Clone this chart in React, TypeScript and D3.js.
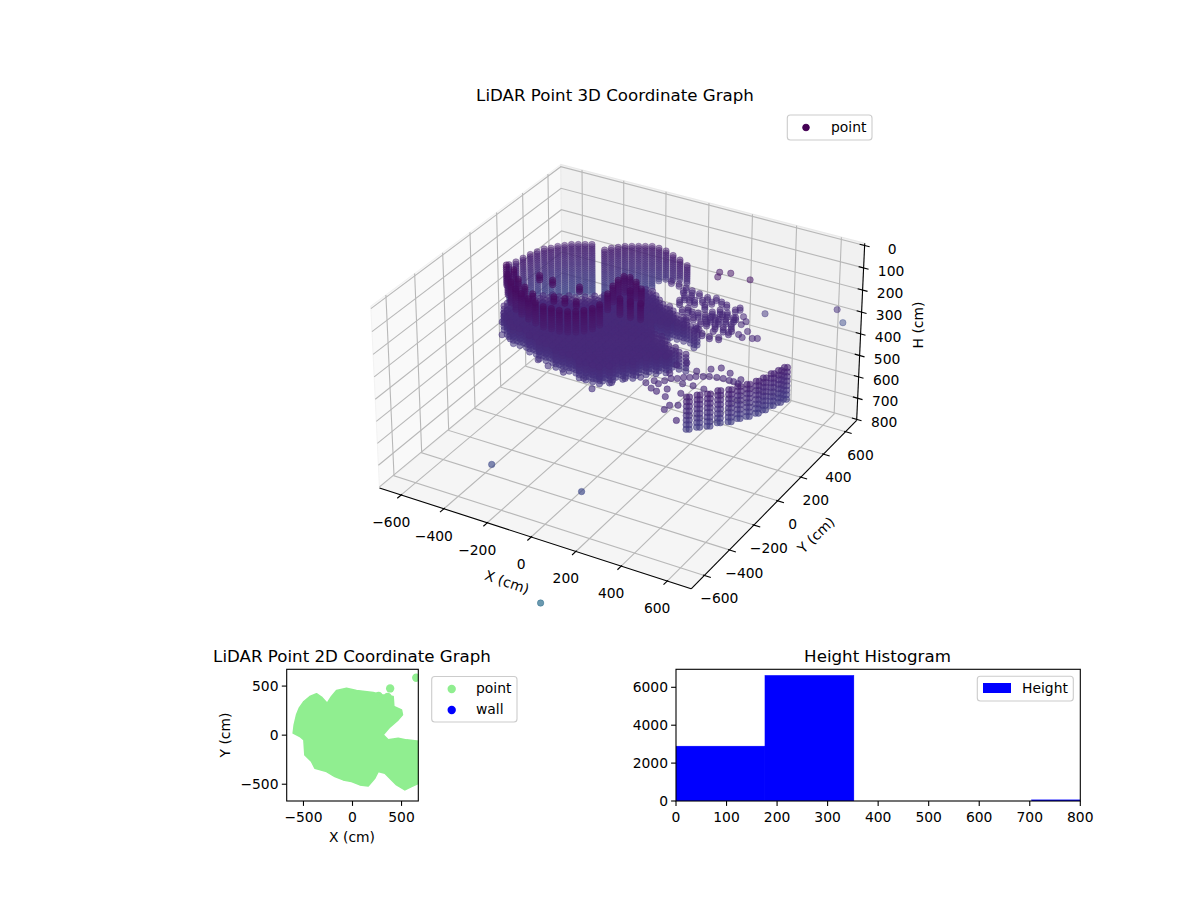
import React from "react";
import * as d3 from "d3";

// ---- tick labels / limits
const xyTicks3D = [-600, -400, -200, 0, 200, 400, 600];
const hTicks3D = [0, 100, 200, 300, 400, 500, 600, 700, 800];
const ticks2D = [-500, 0, 500];
const histXTicks = [0, 100, 200, 300, 400, 500, 600, 700, 800];
const histYTicks = [0, 2000, 4000, 6000];

// ---- LiDAR scan levels (cm below sensor)
const scanLevels = [60, 70, 80, 90, 100, 110, 120, 130, 140, 150, 160, 170, 180, 190, 200, 210, 220, 230, 240, 250, 260, 270, 280, 290, 300, 310, 320, 330, 340, 350, 360, 370, 380];
const stripeLevels = [170, 190, 210, 230, 250, 270, 290, 310];
const massLevels = [200, 215, 230, 245, 260, 275];
const massGridY = [-450, -425, -400, -375, -350, -325, -300, -275, -250, -225, -200, -175, -150, -125, -100, -75, -50, -25, 0, 25, 50, 75, 100, 125, 150, 175, 200, 225, 250, 275, 300, 325, 350];

// back-left wall columns
const wallX = [-585, -573, -565, -556, -544, -532, -512, -496, -476, -456, -432, -408, -384, -315, -299, -279, -259, -235, -211, -187, -163, -131, -95, -51, -8, 40];
const wallY = [99, 133, 175, 216, 250, 285, 305, 332, 353, 374, 388, 402, 416, 400, 427, 448, 469, 483, 497, 510, 524, 524, 518, 498, 478, 451];
const wallBottom = [320, 320, 330, 340, 350, 360, 370, 380, 380, 380, 380, 380, 380, 380, 380, 380, 380, 380, 380, 380, 340, 300, 280, 260, 240, 230];

// dark top band and hook
const bandX = [-502, -456, -411, -366, -326, -282, -242, -199, -164, -129, -97, -70, -47, -27, -18, -455, -399, -343, -288, -343, -278, -158, -109, -159, -204, -35, -49, -55, -51, -26, 14, 59, 29, 26, 73, 115];
const bandY = [-51, -115, -163, -201, -223, -243, -256, -268, -265, -264, -255, -239, -216, -186, -146, -70, -128, -169, -201, -59, -67, -62, -170, -172, -180, -55, 10, 61, 100, 105, 83, 45, 10, -65, -65, -59];
const bandBottom = [150, 150, 150, 150, 150, 150, 150, 150, 150, 150, 150, 150, 150, 150, 150, 150, 150, 150, 150, 80, 80, 80, 80, 80, 80, 130, 130, 130, 130, 130, 130, 130, 130, 130, 130, 130];

// main body rows: X with occupied Y span
const massRowX = [-470, -440, -410, -380, -350, -320, -290, -260, -230, -200, -170, -140, -110, -80, -50, -20, 10, 40, 70, 100, 100, 130, 130, 160, 160, 190, 190, 220, 220, 250, 250, 280, 280, 310, 340];
const massRowLo = [-130, -190, -222, -240, -252, -262, -272, -282, -292, -302, -310, -315, -325, -335, -340, -340, -350, -360, -365, -370, 50, -335, 58, -290, 68, -250, 78, -215, 88, -180, 95, -150, 75, -120, -100];
const massRowHi = [-60, -10, 15, 35, 50, 65, 75, 95, 115, 140, 170, 200, 230, 265, 290, 280, 260, 240, 220, 15, 200, 5, 185, -10, 165, -25, 150, -40, 125, -55, 100, -65, 100, -80, -95];

// loose points round the body
const looseX = [-456, -473, -402, -370, -177, -119, -43, 48, 116, 100, 157, 186, 233];
const looseY = [-163, -118, -250, -250, -347, -368, -380, -381, -433, -352, -355, -302, -265];
const looseH = [250, 250, 250, 250, 250, 250, 250, 250, 250, 250, 250, 250, 250];

// ring on the right
const ringX = [43, 83, 116, 152, 195, 229, 291, 339, 348, 393, 415, 462, 504, 521, 443, 401, 387, 352, 316, 269, 226, 199, 255, 268, 287, 323, 363, 381, 365, 326, 286, 284, 319, 343, 108, 162, 216, 110, 170, 224, 5, 85, 132, 189, 228, 262, 370, 420, 266, 291, 346, 408, 466, 202, 157, 144, 301, 313];
const ringY = [380, 367, 357, 351, 340, 351, 323, 305, 328, 272, 212, 176, 136, 146, 137, 132, 78, 67, 73, 109, 166, 205, 211, 245, 275, 268, 246, 193, 156, 161, 165, 200, 203, 217, 308, 293, 279, 264, 226, 210, 385, 340, 321, 309, 314, 334, 250, 242, 153, 94, 109, 145, 123, 153, 200, 284, 210, 245];
const ringBottom = [210, 210, 210, 210, 210, 210, 210, 210, 210, 200, 200, 200, 200, 200, 200, 210, 210, 210, 210, 210, 210, 210, 220, 220, 220, 220, 220, 220, 220, 220, 220, 220, 220, 220, 220, 220, 220, 220, 220, 220, 210, 210, 210, 210, 210, 210, 210, 200, 210, 200, 200, 200, 200, 210, 210, 210, 210, 210];

// lower right stripes
const stripeX = [522, 549, 579, 601, 633, 651, 674, 693, 705, 716, 729, 738, 532, 559, 589, 611, 643, 661, 684, 703, 715, 726, 739, 748];
const stripeY = [-426, -393, -367, -326, -299, -261, -230, -192, -157, -114, -79, -47, -420, -387, -361, -320, -293, -255, -224, -186, -151, -108, -73, -41];

// lower band between body and stripes
const lowBandX = [350, 358, 367, 401, 438, 479, 527, 579, 619, 357, 478, 508, 556, 614, 438, 375, 349, 479, 526, 466, 427, 470, 472, 499, 547, 313, 333, 380, 418, 455, 499, 552, 597, 379, 406, 437];
const lowBandY = [-390, -348, -316, -278, -247, -216, -196, -193, -197, -258, -152, -125, -143, -165, -193, -156, -189, -296, -297, -368, -418, -502, -465, -449, -548, -365, -336, -290, -259, -230, -204, -191, -192, -400, -366, -302];

// isolated returns
const outlierX = [384, 650, 600, 224, 236, 266, 358, -46, 341, 395];
const outlierY = [476, 585, 750, 384, 346, 399, 389, -898, -892, -1277];
const outlierH = [287, 247, 400, 100, 100, 100, 100, 387, 387, 633];

// outline of the dense floor footprint in the 2D view
const footprintX = [-605, -595, -571, -544, -496, -435, -367, -316, -258, -214, -163, -61, 41, 211, 296, 415, 422, 500, 510, 466, 381, 313, 364, 466, 551, 755, 755, 602, 534, 449, 398, 330, 262, 228, 160, 75, -10, -95, -180, -265, -384, -418, -486, -496, -537];
const footprintY = [20, 105, 207, 275, 343, 394, 422, 388, 326, 394, 456, 479, 456, 435, 411, 394, 292, 258, 207, 156, 82, 3, -48, -31, -48, -71, -456, -524, -558, -507, -456, -388, -371, -439, -517, -507, -473, -456, -422, -371, -337, -269, -201, -48, -14];

// histogram
const histEdges = [0, 176, 352, 528, 704, 880];
const histCounts = [2895, 6630, 0, 0, 60];

// ---- 3D view
const LIM = 703;
const HX = 0.595;
const HZ = 0.345;
const DIST = 10;
const nx = d3.scaleLinear().domain([-LIM, LIM]).range([-HX, HX]);
const nh = d3.scaleLinear().domain([805, -10]).range([-HZ, HZ]);
const colorOf = (h: number) => d3.interpolateViridis(Math.min(1, Math.max(0, h / 1760)));

function project(X: number, Y: number, H: number) {
  const qx = nx(X), qy = nx(Y), qz = nh(H);
  const xv = 0.866025 * qx + 0.5 * qy;
  const yv = -0.25 * qx + 0.433013 * qy + 0.866025 * qz;
  const wq = 0.433013 * qx - 0.75 * qy + 0.5 * qz;
  const d = DIST - wq;
  return { x: 622.5 + (2985 * xv) / d, y: 365.4 - (3000 * yv) / d, depth: wq };
}

type P = { x: number; y: number; depth: number; h: number; layer: number };
const points: P[] = [];
const add = (X: number, Y: number, H: number, layer = 0) => points.push({ ...project(X, Y, H), h: H, layer });
wallX.forEach((X, i) => scanLevels.filter((h) => h >= 150 && h <= wallBottom[i]).forEach((h) => add(X, wallY[i], h)));
massRowX.forEach((X, i) => massGridY.filter((y) => y >= massRowLo[i] && y <= massRowHi[i]).forEach((y) => massLevels.forEach((h) => add(X, y, h))));
bandX.forEach((X, i) => scanLevels.filter((h) => h >= 60 && h <= bandBottom[i]).forEach((h) => add(X, bandY[i], h, 1)));
looseX.forEach((X, i) => add(X, looseY[i], looseH[i]));
ringX.forEach((X, i) => scanLevels.filter((h) => h >= 200 && h <= ringBottom[i]).forEach((h) => add(X, ringY[i], h)));
stripeX.forEach((X, i) => stripeLevels.forEach((h) => add(X, stripeY[i], h)));
lowBandX.forEach((X, i) => add(X, lowBandY[i], 200));
outlierX.forEach((X, i) => add(X, outlierY[i], outlierH[i]));
points.sort((a, b) => a.layer - b.layer || a.depth - b.depth);
const alphaOf = d3.scaleLinear().domain([-0.6, 0.9]).range([0.42, 0.72]).clamp(true);

const FONT = "DejaVu Sans";
const FS = 13.89;
const minus = (v: number) => (v < 0 ? "\u2212" + Math.abs(v) : String(v));
const poly = (pts: { x: number; y: number }[]) => pts.map((p) => `${p.x},${p.y}`).join(" ");
const seg = (a: { x: number; y: number }, b: { x: number; y: number }, k: string, stroke: string, w: number) => (
  <line key={k} x1={a.x} y1={a.y} x2={b.x} y2={b.y} stroke={stroke} strokeWidth={w} />
);

const L = LIM;
const HB = 805;
const HT = -10;
const A = project(-L, -L, HB), B = project(L, -L, HB), C = project(L, L, HB), D = project(-L, L, HB);
const E = project(-L, -L, HT), G = project(L, L, HT), T = project(-L, L, HT);

// ---- 2D panels
const x2 = d3.scaleLinear().domain([-671, 671]).range([286.7, 418.3]);
const y2 = d3.scaleLinear().domain([-671, 671]).range([801, 669.3]);
const footprintPath = d3
  .line<number>()
  .x((v) => x2(v))
  .y((_, i) => y2(footprintY[i]))
  .curve(d3.curveLinearClosed)(footprintX);

const xh = d3.scaleLinear().domain([0, 800]).range([676, 1080.3]);
const yh = d3.scaleLinear().domain([0, 6950]).range([801, 669.3]);

const Txt = ({ x, y, anchor = "middle", size = FS, rotate, children }: any) => (
  <text
    x={x}
    y={y}
    textAnchor={anchor}
    dominantBaseline="central"
    fontFamily={FONT}
    fontSize={size}
    fill="#000"
    transform={rotate !== undefined ? `rotate(${rotate} ${x} ${y})` : undefined}
  >
    {children}
  </text>
);

const LegendBox = ({ x, y, w, h }: any) => (
  <rect x={x} y={y} width={w} height={h} rx={3} fill="#fff" fillOpacity={0.8} stroke="#ccc" strokeWidth={1.1} />
);

export default function App() {
  return (
    <svg width={1200} height={900} viewBox="0 0 1200 900" style={{ position: "absolute", left: 0, top: 0, background: "#fff" }}>
      <defs>
        <clipPath id="c2d">
          <rect x={286.7} y={669.3} width={131.6} height={131.7} />
        </clipPath>
        <clipPath id="chist">
          <rect x={676} y={669.3} width={404.3} height={131.7} />
        </clipPath>
      </defs>
      <Txt x={615} y={95} size={16.67}>LiDAR Point 3D Coordinate Graph</Txt>

      {/* panes */}
      <polygon points={poly([A, D, T, E])} fill="#f9f9f9" stroke="#f3f3f3" strokeWidth={1.1} />
      <polygon points={poly([D, C, G, T])} fill="#f1f1f1" stroke="#e9e9e9" strokeWidth={1.1} />
      <polygon points={poly([A, B, C, D])} fill="#f5f5f5" stroke="#f0f0f0" strokeWidth={1.1} />

      {/* grid */}
      {xyTicks3D.map((v) => (
        <polyline key={"gx" + v} fill="none" stroke="#b8b8b8" strokeWidth={1.1} points={poly([project(v, -L, HB), project(v, L, HB), project(v, L, HT)])} />
      ))}
      {xyTicks3D.map((v) => (
        <polyline key={"gy" + v} fill="none" stroke="#b8b8b8" strokeWidth={1.1} points={poly([project(L, v, HB), project(-L, v, HB), project(-L, v, HT)])} />
      ))}
      {hTicks3D.map((v) => (
        <polyline key={"gz" + v} fill="none" stroke="#b8b8b8" strokeWidth={1.1} points={poly([project(-L, -L, v), project(-L, L, v), project(L, L, v)])} />
      ))}

      {/* axes lines and ticks */}
      {seg(A, B, "ax", "#000", 1.1)}
      {seg(B, C, "ay", "#000", 1.1)}
      {seg(C, G, "az", "#000", 1.1)}
      {xyTicks3D.map((v) => seg(project(v, -L + 6, HB), project(v, -L - 28, HB), "tx" + v, "#000", 1.1))}
      {xyTicks3D.map((v) => seg(project(L - 6, v, HB), project(L + 28, v, HB), "ty" + v, "#000", 1.1))}
      {hTicks3D.map((v) => seg(project(L - 22, L, v), project(L + 22, L, v), "tz" + v, "#000", 1.1))}
      {xyTicks3D.map((v) => {
        const p = project(v, -L, HB);
        return <Txt key={"lx" + v} x={p.x - 10} y={p.y + 27}>{minus(v)}</Txt>;
      })}
      {xyTicks3D.map((v) => {
        const p = project(L, v, HB);
        return <Txt key={"ly" + v} x={p.x + 15} y={p.y + 23}>{minus(v)}</Txt>;
      })}
      {hTicks3D.map((v) => {
        const p = project(L, L, v);
        return <Txt key={"lz" + v} x={p.x + 27.5} y={p.y + 3}>{v}</Txt>;
      })}
      <Txt x={507} y={582} rotate={19}>X (cm)</Txt>
      <Txt x={816} y={535} rotate={-44}>Y (cm)</Txt>
      <Txt x={918} y={325} rotate={-90}>H (cm)</Txt>

      {/* cloud */}
      {points.map((p, i) => {
        const a = alphaOf(p.depth);
        const c = colorOf(p.h);
        return <circle key={i} cx={p.x} cy={p.y} r={3.2} fill={c} stroke={c} strokeWidth={0.7} fillOpacity={a} strokeOpacity={a} />;
      })}

      <LegendBox x={787.3} y={115} w={84.7} h={25} />
      <circle cx={806} cy={127.5} r={3.3} fill="#440154" stroke="#440154" strokeWidth={1} />
      <Txt x={831} y={127} anchor="start">point</Txt>

      {/* 2D scatter */}
      <Txt x={352} y={656} size={16.67}>LiDAR Point 2D Coordinate Graph</Txt>
      <g clipPath="url(#c2d)">
        <path d={footprintPath ?? ""} fill="#90ee90" stroke="#90ee90" strokeWidth={1.5} strokeLinejoin="round" />
        {outlierX.map((v, i) => (
          <circle key={i} cx={x2(v)} cy={y2(outlierY[i])} r={4.17} fill="#90ee90" />
        ))}
      </g>
      <rect x={286.7} y={669.3} width={131.6} height={131.7} fill="none" stroke="#000" strokeWidth={1.1} />
      {ticks2D.map((v) => (
        <g key={"t2" + v}>
          <line x1={x2(v)} x2={x2(v)} y1={801} y2={805.9} stroke="#000" strokeWidth={1.1} />
          <Txt x={x2(v)} y={817}>{minus(v)}</Txt>
          <line x1={286.7} x2={281.8} y1={y2(v)} y2={y2(v)} stroke="#000" strokeWidth={1.1} />
          <Txt x={278.5} y={y2(v)} anchor="end">{minus(v)}</Txt>
        </g>
      ))}
      <Txt x={352} y={837}>X (cm)</Txt>
      <Txt x={225} y={735} rotate={-90}>Y (cm)</Txt>
      <LegendBox x={431.7} y={676.5} w={85.3} h={45.5} />
      <circle cx={451.7} cy={689} r={4.17} fill="#90ee90" />
      <circle cx={451.7} cy={710} r={4.17} fill="#0000ff" />
      <Txt x={476} y={688} anchor="start">point</Txt>
      <Txt x={476} y={708.5} anchor="start">wall</Txt>

      {/* histogram */}
      <Txt x={877.5} y={656} size={16.67}>Height Histogram</Txt>
      <g clipPath="url(#chist)">
        {histCounts.map((c, i) => (
          <rect key={i} x={xh(histEdges[i])} width={xh(histEdges[i + 1]) - xh(histEdges[i])} y={yh(c)} height={yh(0) - yh(c)} fill="#0000ff" stroke="#0000ff" strokeWidth={0.4} />
        ))}
      </g>
      <rect x={676} y={669.3} width={404.3} height={131.7} fill="none" stroke="#000" strokeWidth={1.1} />
      {histXTicks.map((v) => (
        <g key={"hx" + v}>
          <line x1={xh(v)} x2={xh(v)} y1={801} y2={805.9} stroke="#000" strokeWidth={1.1} />
          <Txt x={xh(v)} y={817}>{v}</Txt>
        </g>
      ))}
      {histYTicks.map((v) => (
        <g key={"hy" + v}>
          <line x1={676} x2={671.1} y1={yh(v)} y2={yh(v)} stroke="#000" strokeWidth={1.1} />
          <Txt x={668} y={yh(v)} anchor="end">{v}</Txt>
        </g>
      ))}
      <LegendBox x={977.3} y={676.3} w={96} h={24.7} />
      <rect x={983} y={683} width={28} height={10} fill="#0000ff" />
      <Txt x={1022} y={688} anchor="start">Height</Txt>
    </svg>
  );
}
